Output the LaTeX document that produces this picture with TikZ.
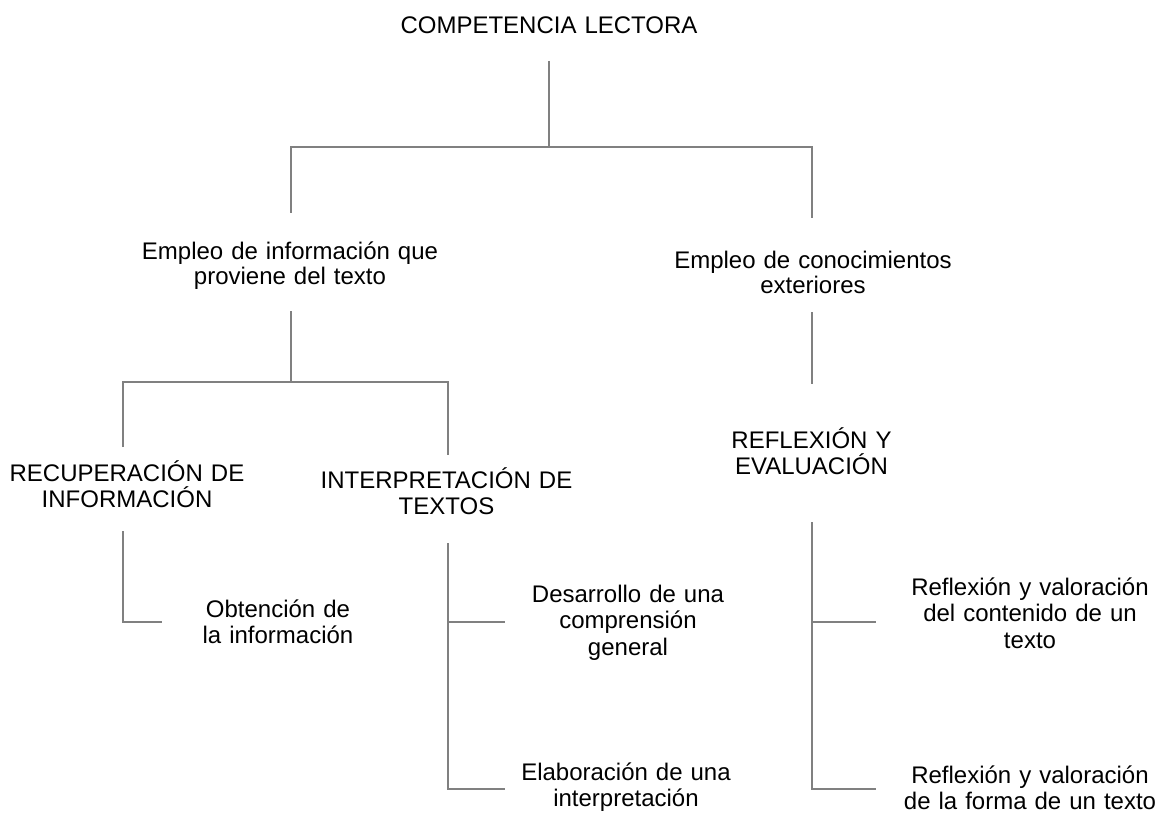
\documentclass[tikz,border=0pt]{standalone}
\usepackage{fontspec}
\setmainfont{Liberation Sans}
\definecolor{linegray}{RGB}{128,128,128}
\begin{document}
\begin{tikzpicture}[x=1pt,y=-1pt,
  lbl/.style={font=\fontsize{24}{#1}\selectfont, text width=330pt, align=center, anchor=base, inner sep=0pt},
  lbl/.default=26.7,
  conn/.style={draw=linegray, line width=2pt}]
\useasboundingbox (0,0) rectangle (1157,813);
% text nodes
\node[lbl] (title) at (549,34) {COMPETENCIA LECTORA};
\node[lbl=25] (empinfo) at (290,259) {Empleo de información que\\proviene del texto};
\node[lbl=25] (empcon) at (813,269) {Empleo de conocimientos\\exteriores};
\node[lbl=26] (recup) at (127,481) {RECUPERACIÓN DE\\INFORMACIÓN};
\node[lbl] (interp) at (446.5,488) {INTERPRETACIÓN DE\\TEXTOS};
\node[lbl] (reflex) at (811.5,448) {REFLEXIÓN Y\\EVALUACIÓN};
\node[lbl=26.5] (obt) at (278,617) {Obtención de\\la información};
\node[lbl] (desa) at (628,602) {Desarrollo de una\\comprensión\\general};
\node[lbl] (elab) at (626,780) {Elaboración de una\\interpretación};
\node[lbl] (refc) at (1030,595) {Reflexión y valoración\\del contenido de un\\texto};
\node[lbl] (reff) at (1030,783) {Reflexión y valoración\\de la forma de un texto};
% connector points
\coordinate (c1) at (549,61);
\coordinate (c2) at (549,147);
\coordinate (c3) at (291,147);
\coordinate (c4) at (812,147);
\coordinate (c5) at (291,213);
\coordinate (c6) at (812,218);
\coordinate (d1) at (291,311);
\coordinate (d2) at (291,382);
\coordinate (d3) at (123,382);
\coordinate (d4) at (447.5,382);
\coordinate (d5) at (123,447);
\coordinate (d6) at (447.5,455);
\coordinate (e1) at (812,312);
\coordinate (e2) at (812,384);
\coordinate (f1) at (123,531);
\coordinate (f2) at (123,622);
\coordinate (f3) at (162,622);
\coordinate (g1) at (447.5,543);
\coordinate (g2) at (447.5,789);
\coordinate (g3) at (447.5,622);
\coordinate (g4) at (505,622);
\coordinate (g5) at (505,789);
\coordinate (h1) at (812,522);
\coordinate (h2) at (812,789);
\coordinate (h3) at (812,622);
\coordinate (h4) at (876,622);
\coordinate (h5) at (876,789);
% connectors
\draw[conn] (c1) -- (c2);
\draw[conn] (c5) -- (c3) -- (c4) -- (c6);
\draw[conn] (d1) -- (d2);
\draw[conn] (d5) -- (d3) -- (d4) -- (d6);
\draw[conn] (e1) -- (e2);
\draw[conn] (f1) -- (f2) -- (f3);
\draw[conn] (g1) -- (g2) -- (g5);
\draw[conn] (g3) -- (g4);
\draw[conn] (h1) -- (h2) -- (h5);
\draw[conn] (h3) -- (h4);
\end{tikzpicture}
\end{document}
